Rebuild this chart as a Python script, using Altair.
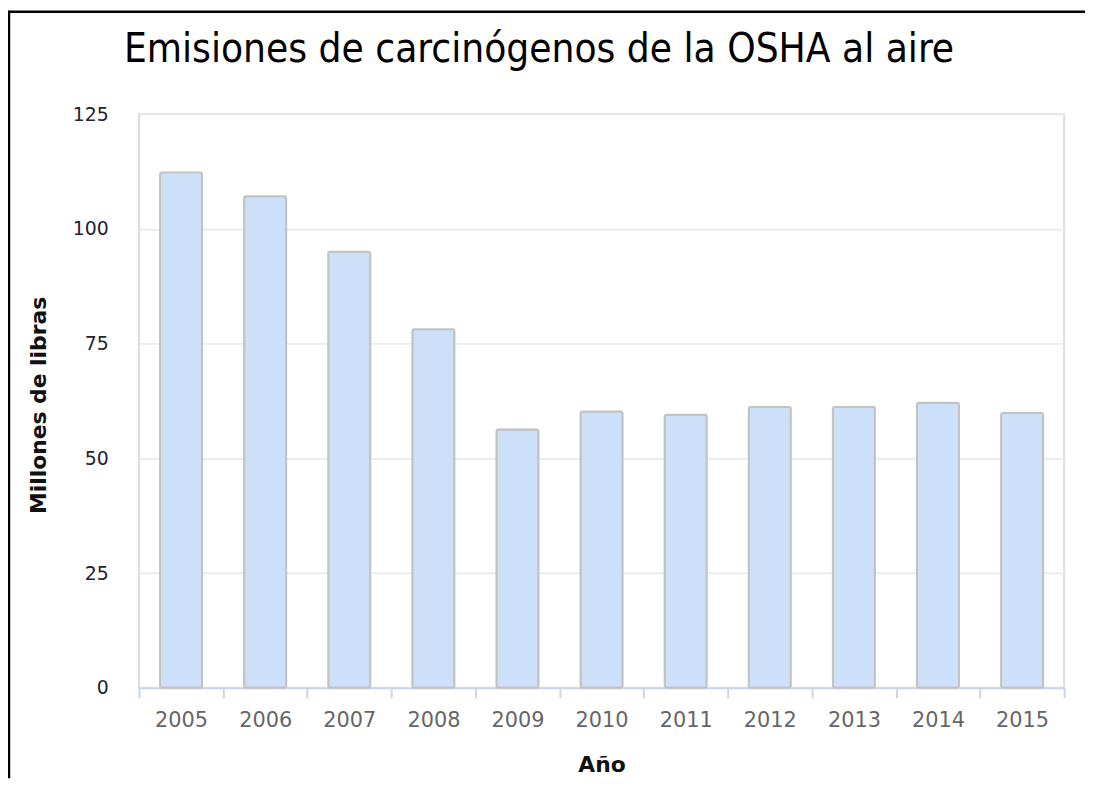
import altair as alt
import pandas as pd

years = ["2005", "2006", "2007", "2008", "2009", "2010", "2011", "2012", "2013", "2014", "2015"]
values = [112.3, 107.1, 95.0, 78.1, 56.3, 60.2, 59.5, 61.2, 61.2, 62.1, 59.9]
y_ticks = [0, 25, 50, 75, 100, 125]
title_text = "Emisiones de carcinógenos de la OSHA al aire"
x_title = "Año"
y_title = "Millones de libras"

df = pd.DataFrame({"Año": years, "Millones": values})

W, H = 932, 578
PAD = {"left": 132, "top": 104, "right": 21, "bottom": 91}

bars = alt.Chart(df).mark_bar(
    width={"band": 0.5},
    fill="#cce0f9",
    stroke="#c2c2c2",
    strokeWidth=2,
    cornerRadius=2,
).encode(
    x=alt.X(
        "Año:N",
        sort=years,
        scale=alt.Scale(paddingInner=0, paddingOuter=0),
        axis=alt.Axis(
            title=x_title,
            labelAngle=0,
            tickBand="extent",
            tickSize=10,
            tickColor="#ccd6eb",
            tickWidth=2,
            domainColor="#ccd6eb",
            domainWidth=2,
            labelFont="DejaVu Sans",
            labelFontSize=21,
            labelColor="#666666",
            labelPadding=12,
            titleFont="DejaVu Sans",
            titleFontSize=22,
            titleFontWeight="bold",
            titleColor="#111111",
            titlePadding=24,
            grid=False,
        ),
    ),
    y=alt.Y(
        "Millones:Q",
        scale=alt.Scale(domain=[0, 125], nice=False),
        axis=alt.Axis(
            title=y_title,
            values=y_ticks,
            ticks=False,
            domain=False,
            labelPadding=31,
            labelFont="DejaVu Sans",
            labelFontSize=19,
            labelColor="#222233",
            gridColor="#ececec",
            gridWidth=2,
            titleFont="DejaVu Sans",
            titleFontSize=22,
            titleFontWeight="bold",
            titleColor="#111111",
            titlePadding=22,
            titleY=293,
        ),
    ),
)

one = pd.DataFrame({"k": [0]})
title = alt.Chart(one).mark_text(
    text=title_text,
    font="DejaVu Sans Condensed, Roboto Condensed, Roboto, sans-serif",
    fontSize=40.5,
    color="black",
    align="center",
    baseline="alphabetic",
).encode(x=alt.value(403), y=alt.value(-52))

frame_left = alt.Chart(one).mark_rule(color="black", strokeWidth=2.5).encode(
    x=alt.value(-131), y=alt.value(-104), y2=alt.value(H + 91)
)
frame_top = alt.Chart(one).mark_rule(color="black", strokeWidth=2.5).encode(
    x=alt.value(-132), x2=alt.value(W + 21), y=alt.value(-103)
)

chart = alt.layer(bars, title, frame_left, frame_top).properties(
    width=W,
    height=H,
    padding=PAD,
    autosize=alt.AutoSizeParams(type="none"),
    background="white",
).configure_view(stroke="#dddddd", strokeWidth=2)

chart.save("out.html", embed_options={"renderer": "svg", "actions": False})
